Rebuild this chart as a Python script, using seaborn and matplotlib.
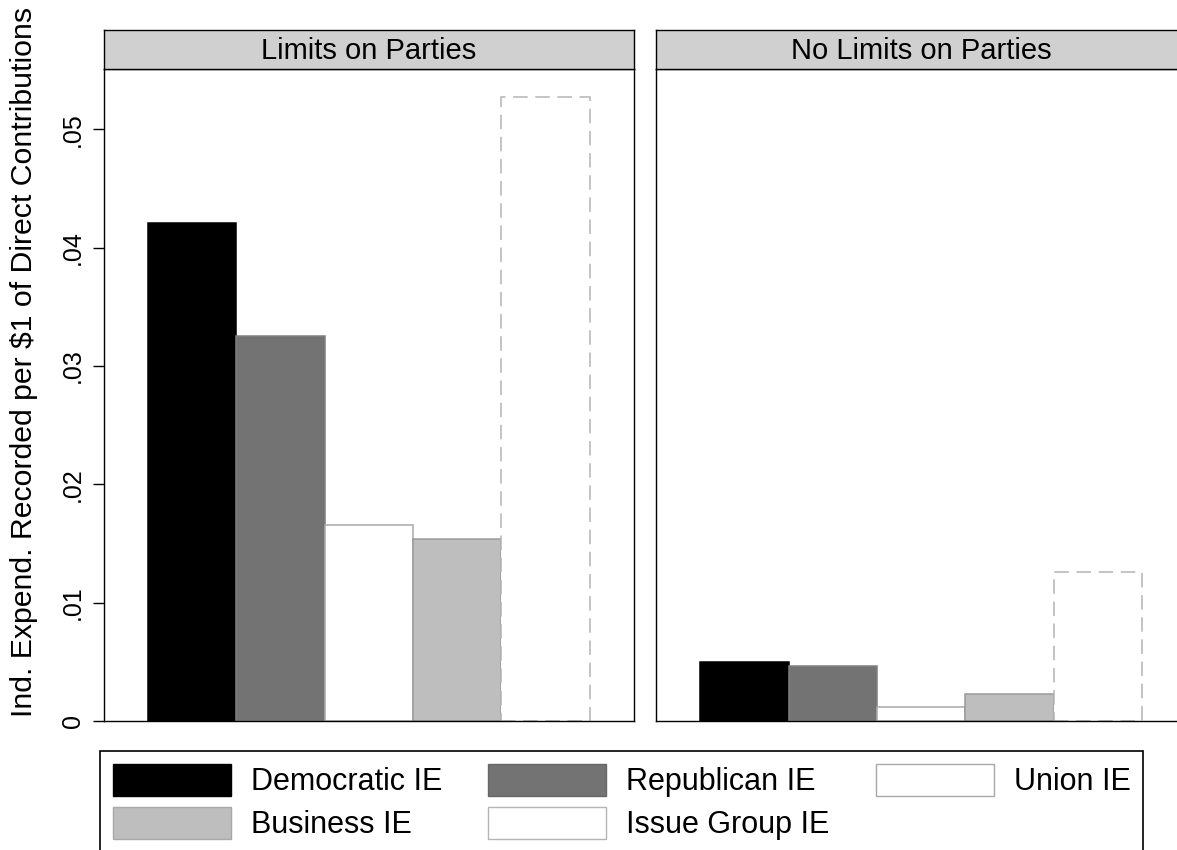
import numpy as np
import pandas as pd
import matplotlib
matplotlib.use("Agg")
import matplotlib.pyplot as plt
from matplotlib.patches import Patch
import seaborn as sns

# ---------------- data ----------------
panels = ["Limits on Parties", "No Limits on Parties"]
ie_types = ["Democratic IE", "Republican IE", "Union IE", "Business IE", "Issue Group IE"]
limits_values = [0.0421, 0.0325, 0.0166, 0.0154, 0.0527]
no_limits_values = [0.0050, 0.00465, 0.0012, 0.0023, 0.0126]
y_ticks = [0, 0.01, 0.02, 0.03, 0.04, 0.05]
y_tick_labels = ["0", ".01", ".02", ".03", ".04", ".05"]
y_label = "Ind. Expend. Recorded per $1 of Direct Contributions"

# ---------------- styles ----------------
fill_colors = ["#000000", "#737373", "#ffffff", "#bebebe", "#ffffff"]
edge_colors = ["#000000", "#808080", "#a8a8a8", "#9a9a9a", "#b4b4b4"]
legend_edges = ["#000000", "#666666", "#a8a8a8", "#a8a8a8", "#b4b4b4"]

sns.set_theme(style="white")
plt.rcParams["font.family"] = ["Liberation Sans", "DejaVu Sans"]
plt.rcParams["text.color"] = "black"

title_size = 21
legend_size = 22

df = pd.DataFrame({
    "panel": np.repeat(panels, len(ie_types)),
    "type": ie_types * 2,
    "value": limits_values + no_limits_values,
})

W, H = 1177, 850
fig = plt.figure(figsize=(W / 100, H / 100), dpi=100)
fig.patch.set_facecolor("white")

ax_w = 530 / W
ax_bottom = 1 - 721 / H
ax_h = (721 - 69) / H
strip_bottom = 1 - 69 / H
strip_h = 39 / H
lefts = [104 / W, 656 / W]

palette = dict(zip(ie_types, fill_colors))

for i, p in enumerate(panels):
    ax = fig.add_axes([lefts[i], ax_bottom, ax_w, ax_h])
    sub = df[df["panel"] == p]
    sns.barplot(data=sub, x="type", y="value", hue="type", order=ie_types,
                hue_order=ie_types, palette=palette, saturation=1, width=1,
                dodge=False, legend=False, errorbar=None, ax=ax)
    for bar in ax.patches:
        idx = int(round(bar.get_x() + bar.get_width() / 2))
        bar.set_edgecolor(edge_colors[idx])
        bar.set_linewidth(1.1)
        if ie_types[idx] == "Issue Group IE":
            bar.set_linestyle((0, (9.5, 5.0)))
            bar.set_zorder(3)
    ax.set_xlim(-1, 5)
    ax.set_ylim(0, 0.0551)
    ax.set_xticks([])
    ax.set_xlabel("")
    ax.set_ylabel("")
    ax.set_facecolor("white")
    for s in ax.spines.values():
        s.set_visible(True)
        s.set_color("black")
        s.set_linewidth(1.0)
        s.set_zorder(5)
    if i == 0:
        ax.set_yticks(y_ticks, y_tick_labels)
        ax.tick_params(axis="y", direction="out", length=8, width=1.0,
                       color="black", labelsize=18, pad=6, left=True)
        plt.setp(ax.get_yticklabels(), rotation=90, va="center", color="black")
    else:
        ax.set_yticks([])

    sax = fig.add_axes([lefts[i], strip_bottom, ax_w, strip_h])
    sax.set_facecolor("#d0d0d0")
    sax.set_xticks([])
    sax.set_yticks([])
    for s in sax.spines.values():
        s.set_color("black")
        s.set_linewidth(1.0)
    sax.text(0.5, 0.47, p, ha="center", va="center", fontsize=title_size,
             color="black", transform=sax.transAxes)

fig.text(0.0207, 1 - 362 / H, y_label, rotation=90, ha="center", va="center",
         fontsize=21.8, color="black")

# legend (column-major order so rows read like the original)
order = [0, 3, 1, 4, 2]
handles = [Patch(facecolor=fill_colors[k], edgecolor=legend_edges[k], linewidth=1.0)
           for k in order]
labels = [ie_types[k] for k in order]
fs_px = legend_size * 100 / 72
hh = (32 / fs_px - 0.245) / 0.65
leg = fig.legend(handles, labels, ncol=3, loc="upper left",
                 bbox_to_anchor=(100 / W, 1 - 751 / H, (1143 - 100) / W, 0),
                 mode="expand", frameon=True, fancybox=False, framealpha=1,
                 edgecolor="black", prop={"size": legend_size}, labelcolor="black",
                 handlelength=118 / fs_px, handleheight=hh,
                 handletextpad=20 / fs_px, columnspacing=39 / fs_px,
                 labelspacing=0.32, borderpad=0.41, borderaxespad=0)
leg.get_frame().set_linewidth(1.2)

fig.savefig("out.png", dpi=100, facecolor="white")
